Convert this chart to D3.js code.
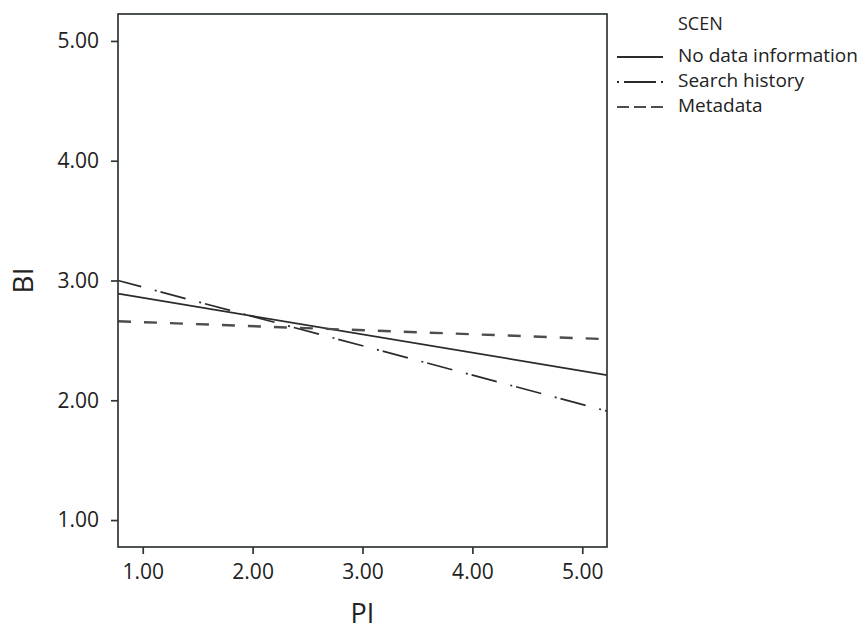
<!DOCTYPE html>
<html>
<head>
<meta charset="utf-8">
<script src="https://cdn.jsdelivr.net/npm/d3@7"></script>
<style>
  body { margin: 0; background: #fff; }
  text { font-family: "Open Sans", sans-serif; fill: #222; }
</style>
</head>
<body>
<svg id="chart" width="861" height="630"></svg>
<script>
// fitted lines of BI on PI, one per scenario, read at the two ends of the frame
var piRange = [0.775, 5.225];
var scenarios = ["No data information", "Search history", "Metadata"];
var biNoData = [2.89, 2.21];
var biSearch = [3.00, 1.91];
var biMeta = [2.66, 2.51];
var ticks = [1, 2, 3, 4, 5];

var width = 861,
  height = 630;
var margin = { top: 14, right: 254, bottom: 83, left: 118 };

var svg = d3.select("#chart");

var x = d3
  .scaleLinear()
  .domain(piRange)
  .range([margin.left, width - margin.right]);

var y = d3
  .scaleLinear()
  .domain([0.775, 5.225])
  .range([height - margin.bottom, margin.top]);

const styles = [
  { color: "#2b2b2b", dash: null, w: 1.7, off: 0 },
  { color: "#2b2b2b", dash: "2,4,26,14", w: 1.7, off: 8 },
  { color: "#4d4d4d", dash: "13,13", w: 2.4, off: 0 }
];
const legendDash = [null, "2,5,32,5,2", "12,5"];

const series = [biNoData, biSearch, biMeta].map((vals, i) => ({
  name: scenarios[i],
  points: piRange.map((p, j) => [p, vals[j]])
}));

// axes
var xAxis = d3
  .axisBottom(x)
  .tickValues(ticks)
  .tickSize(7)
  .tickPadding(10)
  .tickFormat(d3.format(".2f"));
var yAxis = d3
  .axisLeft(y)
  .tickValues(ticks)
  .tickSize(7)
  .tickPadding(12)
  .tickFormat(d3.format(".2f"));

svg
  .append("g")
  .attr("transform", `translate(0,${height - margin.bottom})`)
  .call(xAxis)
  .call((g) => g.select(".domain").remove())
  .call((g) => g.selectAll("line").attr("stroke", "#2f3636").attr("stroke-width", 1.7))
  .call((g) => g.selectAll("text").style("font-size", "21px").attr("fill", "#222"));

svg
  .append("g")
  .attr("transform", `translate(${margin.left},0)`)
  .call(yAxis)
  .call((g) => g.select(".domain").remove())
  .call((g) => g.selectAll("line").attr("stroke", "#2f3636").attr("stroke-width", 1.7))
  .call((g) => g.selectAll("text").style("font-size", "21px").attr("fill", "#222"));

// lines
var line = d3
  .line()
  .x((d) => x(d[0]))
  .y((d) => y(d[1]));

svg
  .append("g")
  .selectAll("path")
  .data(series)
  .join("path")
  .attr("d", (d) => line(d.points))
  .attr("fill", "none")
  .attr("stroke", (d, i) => styles[i].color)
  .attr("stroke-width", (d, i) => styles[i].w)
  .attr("stroke-dasharray", (d, i) => styles[i].dash)
  .attr("stroke-dashoffset", (d, i) => styles[i].off);

// frame
svg
  .append("rect")
  .attr("x", margin.left)
  .attr("y", margin.top)
  .attr("width", width - margin.left - margin.right)
  .attr("height", height - margin.top - margin.bottom)
  .attr("fill", "none")
  .attr("stroke", "#2f3636")
  .attr("stroke-width", 1.7);

// axis titles
svg
  .append("text")
  .attr("x", (x.range()[0] + x.range()[1]) / 2)
  .attr("y", 623)
  .attr("text-anchor", "middle")
  .style("font-size", "27px")
  .text("PI");

svg
  .append("text")
  .attr("transform", `translate(33,${y(3)}) rotate(-90)`)
  .attr("text-anchor", "middle")
  .style("font-size", "28px")
  .text("BI");

// legend
var legend = svg.append("g").attr("transform", "translate(617,0)");
legend
  .append("text")
  .attr("x", 61)
  .attr("y", 30)
  .style("font-size", "18px")
  .text("SCEN");

var rows = legend
  .selectAll("g.row")
  .data(series)
  .join("g")
  .attr("class", "row")
  .attr("transform", (d, i) => `translate(0,${62 + i * 25})`);

rows
  .append("line")
  .attr("x1", 0)
  .attr("x2", 46)
  .attr("y1", -5)
  .attr("y2", -5)
  .attr("stroke", (d, i) => styles[i].color)
  .attr("stroke-width", 2.2)
  .attr("stroke-dasharray", (d, i) => legendDash[i]);

rows
  .append("text")
  .attr("x", 61)
  .style("font-size", "19px")
  .text((d) => d.name);
</script>
</body>
</html>
